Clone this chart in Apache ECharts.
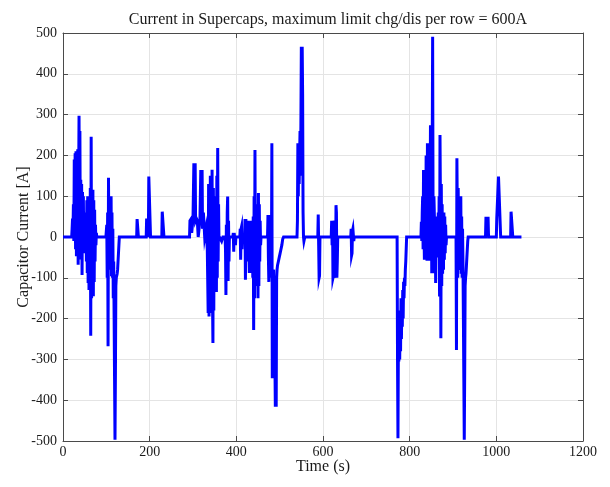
<!DOCTYPE html>
<html>
<head>
<meta charset="utf-8">
<title>Supercap current</title>
<script src="https://cdn.jsdelivr.net/npm/echarts@6/dist/echarts.min.js"></script>
<style>
  html, body { margin: 0; padding: 0; background: #fff; }
  #chart { width: 610px; height: 487px; }
</style>
</head>
<body>
<div id="chart"></div>
<script>
// Supercapacitor current over the drive cycle, [time s, current A] samples per burst.
const idleStart = [[0, 0], [20, 0]];

const burstA = [
  [21, 20], [22, 45], [23, 10], [24, 80], [25, -10], [26, 190], [27, 20], [28, 205], [29, -30], [30, 210],
  [31, -47], [32, 160], [33, 60], [34, 215], [35, -68], [36, 120], [37, 297], [38, 40], [39, 260], [40, -20],
  [41, 140], [42, -55], [43, 130], [44, -93], [45, 110], [46, 30], [47, 100], [48, -40], [49, 60], [50, 0],
  [51, 30], [52, -20], [53, 50], [54, -60], [55, 90], [56, -88], [57, 100], [58, -113], [59, 60], [60, -130],
  [61, 95], [62, -100], [63, 120], [64, -242], [65, 246], [66, -150], [67, 110], [68, -120], [69, 116], [70, -145],
  [71, 90], [72, -110], [73, 67], [74, -60], [75, 30], [76, -20], [77, 10], [78, 0],
  [99, 0], [101, 30], [102, -100], [103, 60], [104, -268], [105, 145], [106, -50], [107, 100], [108, -80], [109, 83],
  [110, -72], [111, 100], [112, -96], [113, 60], [114, -100], [115, 20], [116, -150], [117, -60], [118, -200], [119, -350],
  [120, -497], [121, -330], [122, -120], [123, -100], [124, -100], [125, -90], [126, -80], [127, -60], [128, -40], [129, -20],
  [130, 0]
];

const pulsesA = [
  [170, 0], [171, 44], [173, 44], [174, 0],
  [192, 0], [193, 45], [196, 45], [197, 0], [198, 148], [201, 148], [202, 0],
  [228, 0], [229, 62], [232, 62], [233, 0]
];

const burstB = [
  [292, 0], [293, 40], [296, 45], [297, 10], [300, 45], [302, 181], [304, 50], [305, 181], [306, 40], [308, 45],
  [310, 40], [312, 0], [315, 0], [316, 40], [318, 164], [319, 50], [320, 60], [321, 164], [322, 20], [324, 60],
  [325, 40], [327, 0], [330, 20], [333, -30], [335, -186], [336, 130], [337, -195], [338, 60], [339, -186], [340, 150],
  [341, -100], [342, 120], [343, -150], [344, 165], [345, -150], [346, -260], [347, 120], [348, -180], [349, 100], [350, -120],
  [351, 60], [352, -100], [353, 40], [354, -135], [355, 150], [356, -100], [357, 218], [358, -60], [359, 80], [360, -10],
  [361, 0], [365, 0], [366, -10], [368, -10], [369, 0],
  [374, 0], [375, -30], [376, -142], [377, 30], [378, -80], [379, 60], [380, 99], [381, -108], [382, 40], [383, -60],
  [384, 0], [392, 0], [393, 10], [394, -36], [395, 10], [397, 10], [398, -20], [399, 0],
  [408, 0], [409, 20], [410, -56], [411, 20], [412, 25], [413, -30], [414, 0],
  [419, 0], [420, 44], [421, -105], [422, 44], [423, 20], [424, -60], [425, 30], [426, 40], [427, -40], [428, 35],
  [429, -30], [430, -88], [431, 30], [432, -70], [433, 40], [434, -88], [435, 20], [436, -40], [437, 10], [438, -100],
  [439, 50], [440, -228], [441, 100], [442, -150], [443, 213], [444, -100], [445, 80], [446, -120], [447, 50], [448, -40],
  [449, 30], [450, -150], [451, 108], [452, -120], [453, 80], [454, -60], [455, 40], [456, -20], [457, 0],
  [472, 0], [473, 54], [474, -50], [475, -110], [476, 40], [477, -80], [478, 54], [479, -100], [480, 20], [481, -60],
  [482, 230], [483, -346], [484, -100], [485, -200], [486, -80], [487, -150], [488, -100], [489, -300], [490, -416], [491, -200],
  [492, -416], [493, -100], [494, -80], [495, -70], [497, -60], [499, -50], [501, -40], [503, -30], [505, -20], [507, -5],
  [509, 0]
];

const peakC = [
  [540, 0], [541, 40], [542, 230], [543, 100], [544, 230], [545, 130], [546, 200], [547, 260], [548, 150], [549, 280],
  [550, 466], [551, 200], [552, 466], [553, 350], [554, 60], [555, 0], [556, -10], [558, 0]
];

const pulsesC = [
  [588, 0], [589, 55], [590, -20], [591, -100], [592, -95], [593, 0],
  [619, 0], [620, 40], [621, -20], [622, 40], [623, -100], [624, -95], [625, 30], [626, 40], [627, 0], [628, -90],
  [629, -100], [630, 78], [631, 60], [632, -100], [633, -60], [634, 0],
  [664, 0], [665, 20], [666, -45], [667, -40], [668, 15], [669, 20], [670, 20], [671, -10], [672, 0]
];

const brakeD = [
  [771, 0], [772, -300], [773, -493], [774, -250], [775, -305], [776, -180], [777, -300], [778, -200], [779, -280], [780, -150],
  [781, -250], [782, -160], [783, -220], [784, -130], [785, -200], [786, -110], [787, -150], [788, -100], [789, -120], [790, -80],
  [791, -60], [792, -30], [793, 0]
];

const burstE = [
  [826, 0], [827, 37], [828, -10], [829, 60], [830, 100], [831, -30], [832, 164], [833, 20], [834, -56], [835, 150],
  [836, 80], [837, -40], [838, 200], [839, 100], [840, -58], [841, 230], [842, 140], [843, -30], [844, 180], [845, -58],
  [846, 120], [847, 60], [848, 274], [849, -40], [850, 150], [851, -89], [852, 200], [853, 491], [854, 60], [855, -89],
  [856, 100], [857, 54], [858, -60], [859, 40], [860, -113], [861, 30], [862, 50], [863, -50], [864, 20], [865, 0],
  [866, 60], [867, -30], [868, 100], [869, -146], [870, 250], [871, 90], [872, -248], [873, 130], [874, -120], [875, 80],
  [876, -90], [877, 50], [878, -80], [879, 60], [880, -56], [881, 50], [882, -40], [883, 30], [884, -20], [885, 0],
  [907, 0], [908, -277], [909, 193], [910, 60], [911, -100], [912, 120], [913, -81], [914, 50], [915, -60], [916, 40],
  [917, -81], [918, 100], [919, -90], [920, 50], [921, -100], [922, 20], [923, -60], [924, -200], [925, -346], [926, -497],
  [927, -330], [928, -120], [929, -100], [930, -90], [931, -70], [932, -50], [933, -30], [934, -10], [935, 0]
];

const pulsesF = [
  [975, 0], [976, 46], [981, 46], [982, 0],
  [1000, 0], [1001, 46], [1004, 46], [1005, 148], [1009, 148], [1010, 0],
  [1033, 0], [1034, 62], [1037, 62], [1038, 0],
  [1058, 0]
];

const xTicks = { min: 0, max: 1200, step: 200 };
const yTicks = { min: -500, max: 500, step: 100 };

const samples = [].concat(idleStart, burstA, pulsesA, burstB, peakC, pulsesC, brakeD, burstE, pulsesF);

const serif = 'Liberation Serif, Times New Roman, serif';
const frameColor = '#4a4a4a';
const gridColor = '#e4e4e4';
const plainNumber = v => String(v);

function frameAxis(extra) {
  return Object.assign({
    type: 'value',
    axisLine: { show: true, onZero: false, lineStyle: { color: frameColor, width: 1 } },
    axisTick: { show: true, inside: true, length: 5, lineStyle: { color: frameColor } },
    splitLine: { show: false },
    axisLabel: { show: false }
  }, extra);
}

const chart = echarts.init(document.getElementById('chart'), null, { renderer: 'canvas' });
chart.setOption({
  animation: false,
  backgroundColor: '#ffffff',
  title: {
    text: 'Current in Supercaps, maximum limit chg/dis per row = 600A',
    left: 323, textAlign: 'center', top: 7,
    textStyle: { fontFamily: serif, fontSize: 16, fontWeight: 'normal', color: '#1a1a1a' }
  },
  grid: { left: 63, right: 27, top: 33, bottom: 46 },
  xAxis: [
    frameAxis({
      position: 'bottom', min: xTicks.min, max: xTicks.max, interval: xTicks.step,
      name: 'Time (s)', nameLocation: 'middle', nameGap: 18, nameMoveOverlap: false,
      nameTextStyle: { fontFamily: serif, fontSize: 16, color: '#1a1a1a' },
      axisLabel: { show: true, margin: 4, formatter: plainNumber, fontFamily: serif, fontSize: 14, color: '#1a1a1a' },
      splitLine: { show: true, lineStyle: { color: gridColor, width: 1 } }
    }),
    frameAxis({ position: 'top', min: xTicks.min, max: xTicks.max, interval: xTicks.step })
  ],
  yAxis: [
    frameAxis({
      position: 'left', min: yTicks.min, max: yTicks.max, interval: yTicks.step,
      name: 'Capacitor Current [A]', nameLocation: 'middle', nameGap: 31, nameRotate: 90, nameMoveOverlap: false,
      nameTextStyle: { fontFamily: serif, fontSize: 16, color: '#1a1a1a' },
      axisLabel: { show: true, margin: 6, formatter: plainNumber, fontFamily: serif, fontSize: 14, color: '#1a1a1a' },
      splitLine: { show: true, lineStyle: { color: gridColor, width: 1 } }
    }),
    frameAxis({ position: 'right', min: yTicks.min, max: yTicks.max, interval: yTicks.step })
  ],
  series: [{
    type: 'line',
    xAxisIndex: 0,
    yAxisIndex: 0,
    data: samples,
    showSymbol: false,
    symbol: 'none',
    lineStyle: { color: '#0000ff', width: 3, join: 'miter' },
    z: 3
  }]
});
</script>
</body>
</html>
